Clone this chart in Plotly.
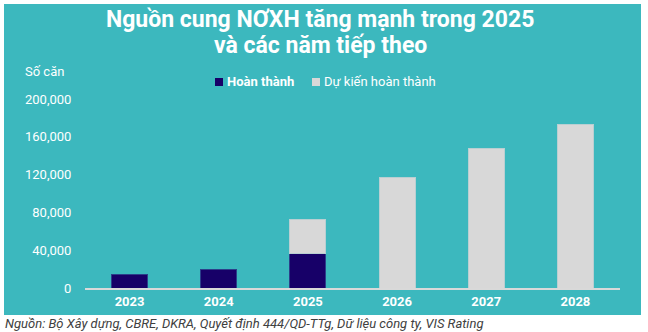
import plotly.graph_objects as go

years = ["2023", "2024", "2025", "2026", "2027", "2028"]
completed = [14000, 20000, 37000, None, None, None]
projected = [None, None, 36000, 116500, 148000, 172500]
y_ticks = [0, 40000, 80000, 120000, 160000, 200000]
series_names = ["Hoàn thành", "Dự kiến hoàn thành"]

TEAL = "#3cb8be"
NAVY = "#170068"
GREY = "#d8d8d8"
FONT = "Roboto"

W, H = 648, 332
L, R, T, B = 85, 28, 99, 44
pw = W - L - R
ph = H - T - B

def px_x(x):
    return (x - L) / pw

def px_y(y):
    return (H - B - y) / ph

fig = go.Figure()
fig.add_trace(go.Bar(
    x=years, y=completed, name=series_names[0],
    marker=dict(color=NAVY, line=dict(color="#2b3f8a", width=1)),
))
fig.add_trace(go.Bar(
    x=years, y=projected, name=series_names[1],
    marker=dict(color=GREY, line=dict(color="#b9cfd2", width=1)),
))

shapes = [dict(
    type="rect", xref="paper", yref="paper", layer="below",
    x0=px_x(4), x1=px_x(641), y0=px_y(315), y1=px_y(4),
    fillcolor=TEAL, line=dict(width=0),
)]
# legend swatches
for sx, col in [(215, NAVY), (312, GREY)]:
    shapes.append(dict(
        type="rect", xref="paper", yref="paper",
        x0=px_x(sx), x1=px_x(sx + 8), y0=px_y(86), y1=px_y(78),
        fillcolor=col, line=dict(width=0),
    ))

annotations = [
    dict(text="<b>Nguồn cung NƠXH tăng mạnh trong 2025</b>", xref="paper", yref="paper",
         x=px_x(320), y=px_y(19), xanchor="center", yanchor="middle", showarrow=False,
         font=dict(family=FONT, size=23, color="white")),
    dict(text="<b>và các năm tiếp theo</b>", xref="paper", yref="paper",
         x=px_x(320), y=px_y(46), xanchor="center", yanchor="middle", showarrow=False,
         font=dict(family=FONT, size=23, color="white")),
    dict(text="Số căn", xref="paper", yref="paper",
         x=px_x(44), y=px_y(71), xanchor="center", yanchor="middle", showarrow=False,
         font=dict(family=FONT, size=13, color="white")),
    dict(text="<b>" + series_names[0] + "</b>", xref="paper", yref="paper",
         x=px_x(225), y=px_y(82), xanchor="left", yanchor="middle", showarrow=False,
         font=dict(family=FONT, size=13, color="white")),
    dict(text=series_names[1], xref="paper", yref="paper",
         x=px_x(322), y=px_y(82), xanchor="left", yanchor="middle", showarrow=False,
         font=dict(family=FONT, size=13, color="white")),
    dict(text="<i>Nguồn: Bộ Xây dựng, CBRE, DKRA, Quyết định 444/QD-TTg, Dữ liệu công ty, VIS Rating</i>",
         xref="paper", yref="paper",
         x=px_x(3), y=px_y(323), xanchor="left", yanchor="middle", showarrow=False,
         font=dict(family=FONT, size=13, color="#404040")),
]

fig.update_layout(
    width=W, height=H,
    margin=dict(l=L, r=R, t=T, b=B, pad=0),
    paper_bgcolor="white",
    plot_bgcolor="rgba(0,0,0,0)",
    barmode="stack",
    bargap=0.596,
    font=dict(family=FONT, size=13, color="white"),
    showlegend=False,
    shapes=shapes,
    annotations=annotations,
)

fig.update_xaxes(
    type="category", showline=True, linecolor="#d9d9d9", linewidth=2,
    showgrid=False, zeroline=False, ticks="",
    tickfont=dict(family=FONT, size=13, color="white", weight="bold"),
    range=[-0.5, 5.5],
)
fig.update_yaxes(
    range=[0, 200000], tickvals=y_ticks, tickformat=",",
    showgrid=False, zeroline=False, showline=False,
    ticks="outside", ticklen=10, tickcolor="rgba(0,0,0,0)",
    tickfont=dict(family=FONT, size=13, color="white"),
)

fig.write_html("out.html")
